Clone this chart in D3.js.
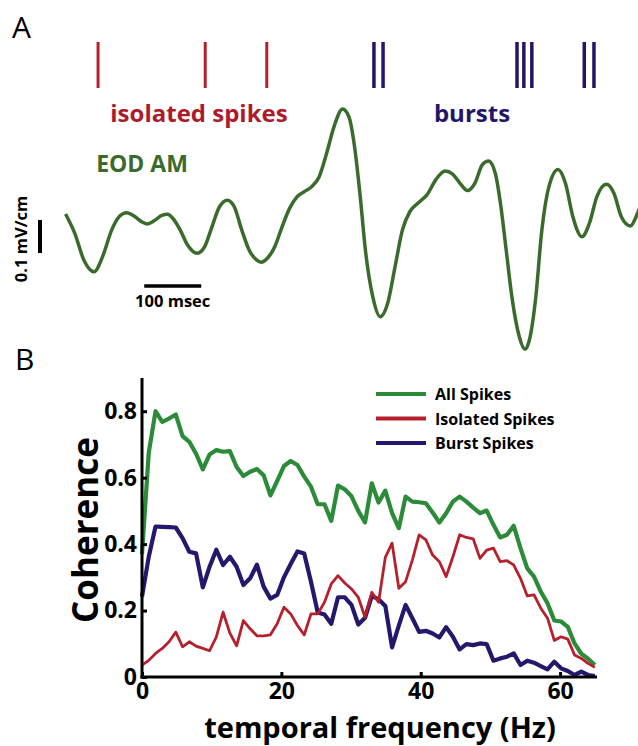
<!DOCTYPE html>
<html><head><meta charset="utf-8">
<script src="https://cdn.jsdelivr.net/npm/d3@7"></script>
<style>
html,body{margin:0;padding:0;background:#fff;}
text{font-family:"Open Sans","DejaVu Sans",sans-serif;}
</style></head>
<body><svg id="c" width="638" height="746"></svg>
<script>
// ---------- Panel A data ----------
const isolatedSpikeTimes = [58, 246, 354];                       // ms
const burstSpikeTimes = [542, 558, 793, 805, 819, 911, 928];     // ms
const eodTime = [1,17,33,51,66,82,95,108,121,134,144,157,170,180,189,202,215,232,245,258,271,285,297,310,323,336,344,355,368,381,394,407,420,433,446,459,472,487,498,508,518,527,540,553,566,579,592,605,622,635,651,667,680,693,706,719,732,743,755,764,774,784,797,807,816,826,836,849,865,878,891,907,920,933,950,963,976,992,1002,1010];
const eodAmp = [0.003,-0.055,-0.136,-0.172,-0.126,-0.045,-0.005,0.007,-0.003,-0.020,-0.027,-0.017,-0.001,0.002,-0.010,-0.045,-0.091,-0.116,-0.096,-0.035,0.025,0.045,0.025,-0.045,-0.106,-0.136,-0.143,-0.131,-0.096,-0.035,0.020,0.055,0.071,0.086,0.116,0.187,0.268,0.321,0.298,0.207,0.055,-0.106,-0.248,-0.308,-0.268,-0.157,-0.045,0.010,0.040,0.061,0.108,0.133,0.124,0.096,0.074,0.096,0.152,0.164,0.126,0.035,-0.106,-0.248,-0.369,-0.407,-0.369,-0.248,-0.055,0.086,0.138,0.096,-0.005,-0.066,-0.025,0.055,0.093,0.066,-0.005,-0.033,-0.005,0.030];

// ---------- Panel B data ----------
const freqHz = [0,0.97,1.94,2.91,3.88,4.85,5.82,6.79,7.76,8.73,9.7,10.67,11.64,12.61,13.58,14.55,15.52,16.49,17.46,18.43,19.4,20.37,21.34,22.31,23.28,24.25,25.22,26.19,27.16,28.13,29.1,30.07,31.04,32.01,32.98,33.95,34.92,35.89,36.86,37.83,38.8,39.77,40.74,41.71,42.68,43.65,44.62,45.59,46.56,47.53,48.5,49.47,50.44,51.41,52.38,53.35,54.32,55.29,56.26,57.23,58.2,59.17,60.14,61.11,62.08,63.05,64.02,64.99];
const allSpikes = [0.37,0.675,0.80,0.768,0.778,0.79,0.725,0.708,0.672,0.625,0.67,0.683,0.678,0.68,0.632,0.605,0.618,0.626,0.607,0.547,0.59,0.635,0.65,0.638,0.603,0.573,0.52,0.52,0.47,0.576,0.565,0.544,0.50,0.465,0.583,0.525,0.561,0.493,0.448,0.543,0.528,0.526,0.523,0.495,0.465,0.493,0.528,0.543,0.528,0.51,0.493,0.501,0.458,0.42,0.428,0.455,0.388,0.327,0.302,0.257,0.222,0.17,0.167,0.151,0.101,0.07,0.055,0.036];
const isolatedSpikes = [0.036,0.05,0.071,0.086,0.106,0.135,0.091,0.106,0.093,0.086,0.079,0.121,0.195,0.132,0.094,0.17,0.145,0.124,0.124,0.127,0.16,0.21,0.19,0.155,0.127,0.19,0.19,0.225,0.28,0.305,0.283,0.265,0.24,0.18,0.255,0.225,0.36,0.403,0.267,0.287,0.352,0.428,0.413,0.367,0.347,0.302,0.362,0.428,0.42,0.416,0.357,0.382,0.388,0.347,0.35,0.337,0.297,0.244,0.247,0.207,0.177,0.11,0.121,0.114,0.066,0.056,0.041,0.029];
const burstSpikes = [0.242,0.362,0.453,0.452,0.451,0.45,0.418,0.377,0.372,0.27,0.332,0.383,0.337,0.362,0.332,0.277,0.297,0.338,0.272,0.236,0.247,0.30,0.34,0.378,0.372,0.287,0.194,0.188,0.16,0.24,0.24,0.217,0.158,0.178,0.244,0.234,0.214,0.089,0.155,0.217,0.177,0.136,0.139,0.131,0.119,0.15,0.121,0.083,0.099,0.096,0.101,0.099,0.049,0.056,0.061,0.071,0.036,0.049,0.043,0.033,0.023,0.046,0.026,0.018,0.006,0.016,0.006,0.003];
const xTicks = [0,20,40,60];
const yTicks = [0,0.2,0.4,0.6,0.8];
const seriesNames = ["All Spikes","Isolated Spikes","Burst Spikes"];

const C_GREEN="#2b8b38", C_RED="#b61f2c", C_BLUE="#24186c";
const C_WAVE="#3a6b2d", C_ISO="#ad1a2a", C_BUR="#23166a";

const svg = d3.select("#c");

// ---------- Panel A ----------
svg.append("text").attr("x",12).attr("y",38).attr("font-size",30).attr("fill","#000").text("A");
const xT = d3.scaleLinear().domain([0,1000]).range([65,635]);
const yA = d3.scaleLinear().domain([0,0.1]).range([215,182]);

svg.append("g").selectAll("line").data(isolatedSpikeTimes).join("line")
  .attr("x1",d=>xT(d)).attr("x2",d=>xT(d)).attr("y1",42).attr("y2",88)
  .attr("stroke",C_RED).attr("stroke-width",3);
svg.append("g").selectAll("line").data(burstSpikeTimes).join("line")
  .attr("x1",d=>xT(d)).attr("x2",d=>xT(d)).attr("y1",42).attr("y2",88)
  .attr("stroke",C_BUR).attr("stroke-width",3.5);

svg.append("text").attr("x",199).attr("y",122).attr("text-anchor","middle")
  .attr("font-size",24).attr("font-weight","bold").attr("fill",C_ISO).text("isolated spikes");
svg.append("text").attr("x",472).attr("y",122).attr("text-anchor","middle")
  .attr("font-size",24).attr("font-weight","bold").attr("fill",C_BUR).text("bursts");
svg.append("text").attr("x",142).attr("y",172).attr("text-anchor","middle")
  .attr("font-size",23).attr("font-weight","bold").attr("fill",C_WAVE).text("EOD AM");

const wave = eodTime.map((t,i)=>[t,eodAmp[i]]);
svg.append("path").datum(wave)
  .attr("d", d3.line().x(d=>xT(d[0])).y(d=>yA(d[1])).curve(d3.curveMonotoneX))
  .attr("fill","none").attr("stroke",C_WAVE).attr("stroke-width",3.5).attr("stroke-linejoin","round");

// scale bars
svg.append("line").attr("x1",xT(139)).attr("x2",xT(239)).attr("y1",286).attr("y2",286)
  .attr("stroke","#000").attr("stroke-width",3.5);
svg.append("text").attr("x",(xT(139)+xT(239))/2).attr("y",307).attr("text-anchor","middle")
  .attr("font-size",16.5).attr("font-weight","bold").text("100 msec");
svg.append("line").attr("x1",40).attr("x2",40).attr("y1",yA(-0.015)).attr("y2",yA(-0.115))
  .attr("stroke","#000").attr("stroke-width",4);
svg.append("text").attr("transform","translate(27,239) rotate(-90)").attr("text-anchor","middle")
  .attr("font-size",16.5).attr("font-weight","bold").text("0.1 mV/cm");

// ---------- Panel B ----------
svg.append("text").attr("x",15).attr("y",370).attr("font-size",30).attr("fill","#000").text("B");
const x = d3.scaleLinear().domain([0,65.3]).range([142,597]);
const y = d3.scaleLinear().domain([0,0.9]).range([677,378]);

const line = vals => d3.line().x((d,i)=>x(freqHz[i])).y(d=>y(d))(vals);
svg.append("path").attr("d",line(allSpikes)).attr("fill","none").attr("stroke",C_GREEN)
  .attr("stroke-width",4.2).attr("stroke-linejoin","round");
svg.append("path").attr("d",line(burstSpikes)).attr("fill","none").attr("stroke",C_BLUE)
  .attr("stroke-width",4.2).attr("stroke-linejoin","round");
svg.append("path").attr("d",line(isolatedSpikes)).attr("fill","none").attr("stroke",C_RED)
  .attr("stroke-width",2.8).attr("stroke-linejoin","round");

const gx = svg.append("g").attr("transform",`translate(0,${y(0)})`)
  .call(d3.axisBottom(x).tickValues(xTicks).tickSize(-5).tickSizeOuter(0).tickPadding(6).tickFormat(d3.format("d")));
const gy = svg.append("g").attr("transform",`translate(${x(0)},0)`)
  .call(d3.axisLeft(y).tickValues(yTicks).tickSize(-5).tickSizeOuter(0).tickPadding(5).tickFormat(d=>d===0?"0":d.toFixed(1)));
[gx,gy].forEach(g=>{
  g.select(".domain").attr("stroke","#000").attr("stroke-width",3);
  g.selectAll(".tick line").attr("stroke","#000").attr("stroke-width",3);
  g.selectAll(".tick text").attr("font-size",23).attr("font-weight","bold").attr("fill","#000")
   .attr("font-family","\"Open Sans\",sans-serif");
});
gy.select(".domain").attr("d",`M0,${y(0)+1.5}V${y(0.9)}`);
gx.select(".domain").attr("d",`M${x(0)-1.5},0H${x(65.3)}`);

svg.append("text").attr("x",380).attr("y",738).attr("text-anchor","middle")
  .attr("font-size",29).attr("font-weight","bold").text("temporal frequency (Hz)");
svg.append("text").attr("transform","translate(98,530) rotate(-90)").attr("text-anchor","middle")
  .attr("font-size",35).attr("font-weight","bold").text("Coherence");

// legend
const legColors=[C_GREEN,C_RED,C_BLUE];
const leg = svg.append("g").selectAll("g").data(seriesNames).join("g")
  .attr("transform",(d,i)=>`translate(376,${394+i*24.5})`);
leg.append("line").attr("x1",0).attr("x2",50).attr("stroke",(d,i)=>legColors[i]).attr("stroke-width",4);
leg.append("text").attr("x",59).attr("y",6).attr("font-size",16).attr("font-weight","bold").text(d=>d);
</script></body></html>
